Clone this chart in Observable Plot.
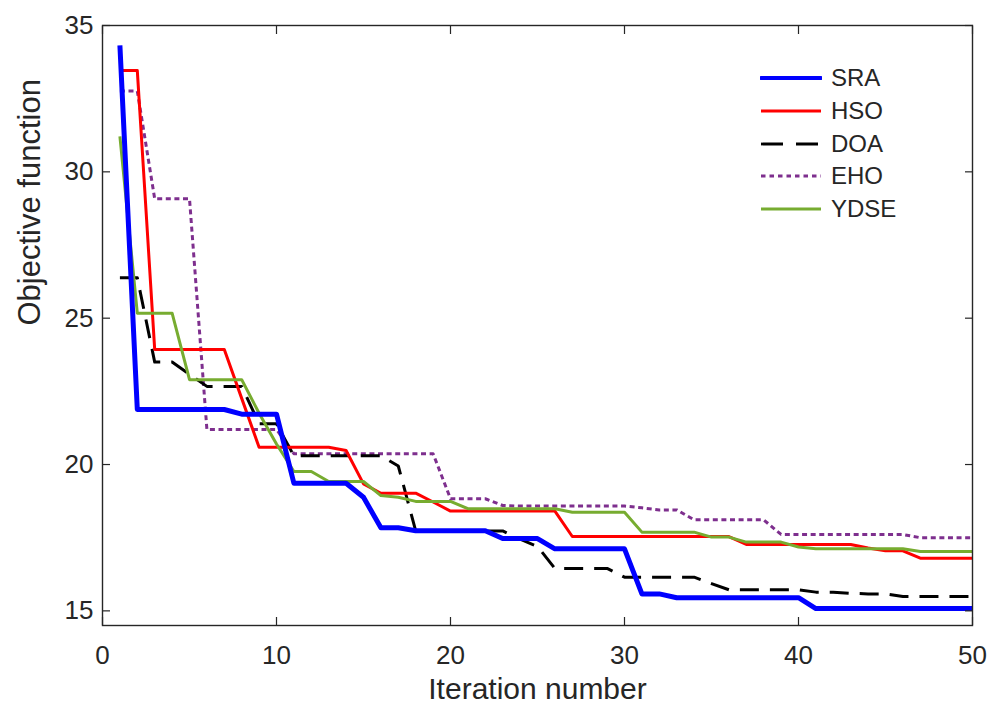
<!DOCTYPE html>
<html>
<head>
<meta charset="utf-8">
<script src="https://cdn.jsdelivr.net/npm/d3@7"></script>
<script src="https://cdn.jsdelivr.net/npm/@observablehq/plot@0.6"></script>
<style>
  body { margin: 0; background: #fff; }
  #wrap { position: relative; width: 988px; height: 706px; font-family: "Liberation Sans", Arial, sans-serif; }
  #legend { position: absolute; left: 760px; top: 62px; }
  .row { display: flex; align-items: center; height: 32.7px; }
  .row svg { width: 62px; height: 10px; margin-right: 9px; }
  .row span { font-size: 24px; color: #262626; }
</style>
</head>
<body>
<div id="wrap"></div>
<script>
const iterations = d3.range(1, 51);
const seriesNames = ["SRA", "HSO", "DOA", "EHO", "YDSE"];
const seriesColors = ["#0000ff", "#ff0000", "#000000", "#7e2f8e", "#77ac30"];
const xTicks = [0, 10, 20, 30, 40, 50];
const yTicks = [15, 20, 25, 30, 35];

const SRA = [34.32, 21.88, 21.88, 21.88, 21.88, 21.88, 21.88, 21.72, 21.72, 21.72,
             19.36, 19.36, 19.36, 19.36, 18.88, 17.84, 17.84, 17.74, 17.74, 17.74,
             17.74, 17.74, 17.47, 17.47, 17.47, 17.12, 17.12, 17.12, 17.12, 17.12,
             15.58, 15.58, 15.45, 15.45, 15.45, 15.45, 15.45, 15.45, 15.45, 15.45,
             15.08, 15.08, 15.08, 15.08, 15.08, 15.08, 15.08, 15.08, 15.08, 15.08];
const HSO = [33.46, 33.46, 23.93, 23.93, 23.93, 23.93, 23.93, 22.26, 20.59, 20.59,
             20.59, 20.59, 20.59, 20.48, 19.34, 19.02, 19.02, 19.02, 18.72, 18.41,
             18.41, 18.41, 18.41, 18.41, 18.41, 18.41, 17.54, 17.54, 17.54, 17.54,
             17.54, 17.54, 17.54, 17.54, 17.54, 17.54, 17.27, 17.27, 17.27, 17.27,
             17.27, 17.27, 17.27, 17.15, 17.05, 17.05, 16.80, 16.80, 16.80, 16.80];
const DOA = [26.38, 26.38, 23.50, 23.50, 23.08, 22.67, 22.67, 22.67, 21.39, 21.39,
             20.30, 20.30, 20.30, 20.30, 20.30, 20.30, 19.95, 17.73, 17.73, 17.73,
             17.73, 17.73, 17.73, 17.45, 17.20, 16.45, 16.45, 16.45, 16.45, 16.15,
             16.15, 16.15, 16.15, 16.15, 15.93, 15.72, 15.72, 15.72, 15.72, 15.72,
             15.64, 15.64, 15.60, 15.58, 15.58, 15.49, 15.49, 15.49, 15.49, 15.49];
const EHO = [32.76, 32.76, 29.08, 29.08, 29.08, 21.20, 21.20, 21.20, 21.20, 21.20,
             20.37, 20.37, 20.37, 20.37, 20.37, 20.37, 20.37, 20.37, 20.37, 18.83,
             18.83, 18.83, 18.60, 18.58, 18.58, 18.58, 18.58, 18.58, 18.58, 18.58,
             18.52, 18.45, 18.45, 18.11, 18.11, 18.11, 18.11, 18.11, 17.61, 17.61,
             17.61, 17.61, 17.61, 17.61, 17.61, 17.61, 17.50, 17.50, 17.50, 17.50];
const YDSE = [31.21, 25.17, 25.17, 25.17, 22.90, 22.90, 22.90, 22.90, 21.75, 20.70,
              19.76, 19.76, 19.42, 19.42, 19.42, 18.94, 18.88, 18.74, 18.74, 18.74,
              18.49, 18.49, 18.49, 18.49, 18.49, 18.49, 18.37, 18.37, 18.37, 18.37,
              17.69, 17.69, 17.69, 17.69, 17.52, 17.52, 17.35, 17.35, 17.35, 17.18,
              17.12, 17.12, 17.12, 17.12, 17.12, 17.12, 17.03, 17.03, 17.03, 17.03];

const values = {SRA, HSO, DOA, EHO, YDSE};
const styles = {
  SRA:  {stroke: "#0000ff", strokeWidth: 5},
  HSO:  {stroke: "#ff0000", strokeWidth: 3},
  DOA:  {stroke: "#000000", strokeWidth: 3, strokeDasharray: "19,11"},
  EHO:  {stroke: "#7e2f8e", strokeWidth: 3, strokeDasharray: "5,3.6"},
  YDSE: {stroke: "#77ac30", strokeWidth: 3}
};
const drawOrder = ["EHO", "DOA", "HSO", "YDSE", "SRA"];

const lineMarks = drawOrder.map(name =>
  Plot.line(iterations.map((it, i) => ({it, v: values[name][i]})),
    {x: "it", y: "v", strokeLinejoin: "round", strokeLinecap: "butt", ...styles[name]})
);

const axisColor = "#262626";
const chart = Plot.plot({
  width: 988,
  height: 706,
  marginLeft: 102,
  marginRight: 16,
  marginTop: 25,
  marginBottom: 81,
  style: {fontFamily: "'Liberation Sans', Arial, sans-serif", color: axisColor, background: "#fff"},
  x: {domain: [0, 50]},
  y: {domain: [14.5, 35]},
  marks: [
    ...lineMarks,
    Plot.axisX(xTicks, {tickSize: -8, tickPadding: 28, fontSize: 26, stroke: axisColor, label: null, strokeWidth: 1.2}),
    Plot.axisX(xTicks, {anchor: "top", tickSize: -8, tickFormat: () => "", label: null, stroke: axisColor, strokeWidth: 1.2}),
    Plot.axisY(yTicks, {tickSize: -8, tickPadding: 17, fontSize: 26, stroke: axisColor, label: null, strokeWidth: 1.2}),
    Plot.axisY(yTicks, {anchor: "right", tickSize: -8, tickFormat: () => "", label: null, stroke: axisColor, strokeWidth: 1.2}),
    Plot.frame({stroke: axisColor, strokeWidth: 1.4}),
    Plot.text(["Iteration number"], {frameAnchor: "bottom", dy: 64, fontSize: 30, lineAnchor: "middle", fill: axisColor}),
    Plot.text(["Objective function"], {frameAnchor: "left", dx: -72, rotate: -90, fontSize: 31, lineAnchor: "middle", fill: axisColor})
  ]
});

const wrap = document.getElementById("wrap");
wrap.appendChild(chart);

const legend = document.createElement("div");
legend.id = "legend";
seriesNames.forEach(name => {
  const s = styles[name];
  const row = document.createElement("div");
  row.className = "row";
  row.innerHTML = `<svg viewBox="0 0 62 10"><line x1="1" x2="61" y1="5" y2="5" stroke="${s.stroke}" stroke-width="${name === "SRA" ? 4 : 2.8}" ${s.strokeDasharray ? `stroke-dasharray="${name === "DOA" ? "22,13" : "4.5,4"}"` : ""} stroke-linecap="${name === "SRA" ? "round" : "butt"}"/></svg><span>${name}</span>`;
  legend.appendChild(row);
});
wrap.appendChild(legend);
</script>
</body>
</html>
